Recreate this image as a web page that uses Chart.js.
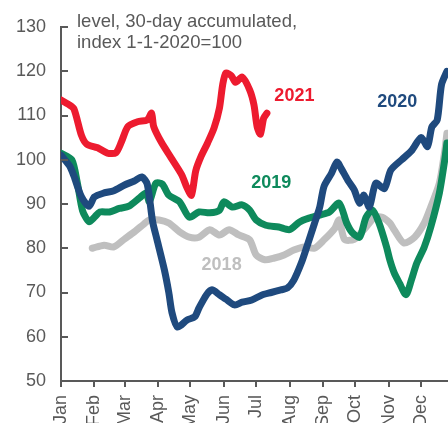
<!DOCTYPE html>
<html>
<head>
<meta charset="utf-8">
<script src="https://cdn.jsdelivr.net/npm/chart.js@4"></script>
<style>
  html, body { margin: 0; padding: 0; background: #fff; overflow: hidden; }
  #wrap { width: 448px; height: 423px; position: relative; }
</style>
</head>
<body>
<div id="wrap"><canvas id="chart"></canvas></div>
<script>
"use strict";

// Månadsstart (dag på året) och etiketter
const monthStarts = [0, 31, 59, 90, 120, 151, 181, 212, 243, 273, 304, 334];
const monthLabels = ["Jan", "Feb", "Mar", "Apr", "May", "Jun", "Jul", "Aug", "Sep", "Oct", "Nov", "Dec"];
const yTicks = [50, 60, 70, 80, 90, 100, 110, 120, 130];

const titleLines = ["level, 30-day accumulated,", "index 1-1-2020=100"];

// 2021
const days2021 = [0, 7, 12, 19, 24, 34, 43, 51, 56, 62, 71, 80, 84, 86, 93, 102, 112, 117, 121, 125, 130, 136, 142, 147, 150, 153, 158, 162, 168, 175, 179, 182, 185, 188, 191];
const vals2021 = [113.5, 112.5, 111.5, 105.5, 103.5, 102.7, 101.5, 101.6, 104, 107.5, 108.6, 109, 110.5, 107.5, 104, 100.5, 96.6, 93.6, 92, 97.5, 100.8, 103.8, 107.2, 111.7, 117, 119.6, 119, 117.5, 118.7, 115.8, 112.4, 107.4, 105.8, 109.4, 110.5];

// 2020
const days2020 = [0, 8, 12, 19, 26, 31, 40, 49, 59, 68, 75, 80, 85, 89, 96, 100, 103, 108, 117, 124, 128, 135, 140, 147, 153, 161, 168, 177, 186, 195, 204, 210, 216, 223, 228, 235, 240, 244, 251, 256, 260, 266, 272, 277, 281, 286, 292, 300, 306, 316, 325, 334, 340, 344, 349, 353, 358];
const vals2020 = [101, 98.6, 96.3, 91.6, 89.5, 91.6, 92.5, 93, 94.3, 95.2, 96.1, 94.5, 86, 82, 75, 70, 65.4, 62.2, 63.8, 64.5, 66.5, 69.5, 70.6, 69.5, 68.5, 67.2, 67.8, 68.3, 69.4, 70, 70.6, 71, 72.8, 76.7, 80.3, 85.5, 89.3, 94, 97, 99.5, 98, 95.4, 93.2, 90.2, 92, 89.3, 94.7, 93.5, 97.7, 100, 102, 105, 103, 107.4, 109, 117, 120];

// 2019
const days2019 = [0, 10, 15, 20, 26, 31, 36, 45, 54, 63, 73, 79, 82, 88, 94, 100, 110, 119, 128, 138, 147, 151, 159, 168, 175, 181, 190, 202, 212, 221, 230, 240, 249, 258, 265, 270, 277, 283, 289, 295, 302, 305, 309, 314, 320, 325, 330, 337, 343, 351, 356, 358];
const vals2019 = [101.5, 100, 95, 88.5, 86, 87, 88.2, 88.2, 89, 89.5, 91.4, 92.5, 90.5, 94.7, 94.5, 92, 90.5, 87, 88.2, 88, 88.6, 90.5, 89.3, 89.8, 88.6, 86.4, 85.2, 84.8, 84.2, 85.9, 86.8, 87.5, 88.2, 90.2, 85.7, 83.6, 82.5, 87, 88.6, 85.7, 80.3, 77.4, 74.5, 72.1, 69.5, 72.8, 76.6, 80.3, 84.8, 92.5, 100, 103.8];

// 2018
const days2018 = [29, 40, 49, 59, 68, 77, 82, 91, 100, 110, 119, 128, 138, 147, 156, 165, 175, 181, 189, 198, 207, 216, 226, 235, 244, 254, 258, 263, 272, 281, 291, 298, 305, 309, 318, 328, 337, 343, 351, 356, 358];
const vals2018 = [80, 80.7, 80.3, 82.1, 83.7, 85.5, 86.4, 86.4, 85.7, 83.7, 82.5, 82.5, 84.2, 83, 84.2, 83, 81.9, 78.5, 77.4, 77.8, 78.5, 79.6, 80.3, 80, 81.9, 84.5, 86.4, 82, 82, 84.2, 87, 87, 85.7, 84.2, 81.2, 82.5, 85.7, 89.3, 94.7, 102, 106];

// Serieetiketter: text, dag, värde
const seriesNames = ["2021", "2020", "2019", "2018"];
const seriesColors = ["#ED1B2F", "#1F4A7E", "#0E8A5C", "#BFBFBF"];
const labelDays = [216.5, 312, 195, 149];
const labelVals = [114.4, 113, 94.7, 76.2];

const FONT = "'Liberation Sans', Arial, sans-serif";
const GREY = "#595959";

function toPoints(days, vals) {
    return days.map((d, i) => ({ x: d, y: vals[i] }));
}

const seriesData = [
    toPoints(days2021, vals2021),
    toPoints(days2020, vals2020),
    toPoints(days2019, vals2019),
    toPoints(days2018, vals2018)
];

// Egna tick-streck (y inåt, x utåt), rubrik och serieetiketter
const decorPlugin = {
    id: "decor",
    afterDraw(chart) {
        const ctx = chart.ctx;
        const x = chart.scales.x;
        const y = chart.scales.y;
        const area = chart.chartArea;
        ctx.save();
        ctx.strokeStyle = GREY;
        ctx.lineWidth = 2;
        ctx.beginPath();
        yTicks.forEach(v => {
            const py = Math.round(y.getPixelForValue(v));
            ctx.moveTo(area.left, py);
            ctx.lineTo(area.left + 7, py);
        });
        monthStarts.forEach(d => {
            const px = Math.round(x.getPixelForValue(d));
            ctx.moveTo(px, area.bottom);
            ctx.lineTo(px, area.bottom + 6);
        });
        ctx.stroke();

        ctx.fillStyle = GREY;
        ctx.font = "18.5px " + FONT;
        ctx.textAlign = "left";
        ctx.textBaseline = "middle";
        titleLines.forEach((t, i) => ctx.fillText(t, 77, 22 + i * 21));

        ctx.font = "bold 18px " + FONT;
        ctx.textAlign = "center";
        seriesNames.forEach((name, i) => {
            ctx.fillStyle = seriesColors[i];
            ctx.fillText(name, x.getPixelForValue(labelDays[i]), y.getPixelForValue(labelVals[i]));
        });
        ctx.restore();
    }
};

function createChart() {
    const ctx = document.getElementById("chart").getContext("2d");
    new Chart(ctx, {
        type: "line",
        data: {
            datasets: seriesData.map((pts, i) => ({
                label: seriesNames[i],
                data: pts,
                borderColor: seriesColors[i],
                backgroundColor: seriesColors[i],
                borderWidth: 7,
                pointRadius: 0,
                tension: 0.25,
                borderJoinStyle: "round",
                borderCapStyle: "round"
            }))
        },
        options: {
            responsive: true,
            maintainAspectRatio: false,
            animation: false,
            layout: { padding: { top: 27, right: 0, left: 0, bottom: 0 } },
            plugins: {
                legend: { display: false },
                tooltip: { enabled: false }
            },
            scales: {
                x: {
                    type: "linear",
                    min: 0,
                    max: 359,
                    afterBuildTicks: scale => {
                        scale.ticks = monthStarts.map(v => ({ value: v }));
                    },
                    afterFit: scale => {
                        scale.height = 42;
                        scale.paddingLeft = 0;
                        scale.paddingRight = 0;
                    },
                    grid: { display: false, drawTicks: false },
                    border: { display: true, color: GREY, width: 2 },
                    ticks: {
                        autoSkip: false,
                        minRotation: 90,
                        maxRotation: 90,
                        padding: 14,
                        color: GREY,
                        font: { family: FONT, size: 18 },
                        callback: v => monthLabels[monthStarts.indexOf(v)]
                    }
                },
                y: {
                    min: 50,
                    max: 130,
                    afterFit: scale => { scale.width = 61; },
                    grid: { display: false, drawTicks: false },
                    border: { display: true, color: GREY, width: 2 },
                    ticks: {
                        stepSize: 10,
                        padding: 15,
                        color: GREY,
                        font: { family: FONT, size: 18 }
                    }
                }
            }
        },
        plugins: [decorPlugin]
    });
}

window.onload = createChart;
</script>
</body>
</html>
